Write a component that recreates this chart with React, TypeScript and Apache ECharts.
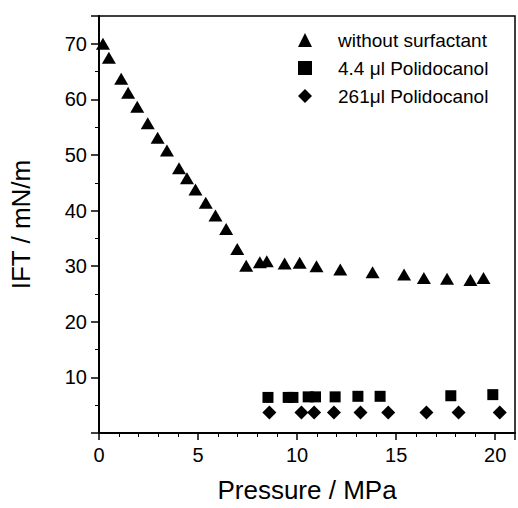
import React, { useEffect, useRef } from "react";
import * as echarts from "echarts";

const seriesNames = ["without surfactant", "4.4 μl Polidocanol", "261μl Polidocanol"];

const noSurfX = [0.2, 0.5, 1.12, 1.47, 1.93, 2.46, 2.96, 3.43, 4.04, 4.44, 4.87, 5.39, 5.88, 6.42, 6.98, 7.43, 8.12, 8.47, 9.37, 10.13, 10.98, 12.18, 13.81, 15.4, 16.4, 17.57, 18.75, 19.41];
const noSurfY = [70.0, 67.5, 63.7, 61.2, 58.7, 55.7, 53.1, 50.8, 47.6, 45.8, 43.8, 41.4, 39.1, 36.7, 33.1, 30.1, 30.7, 30.9, 30.5, 30.6, 30.0, 29.4, 28.9, 28.5, 27.9, 27.75, 27.5, 27.9];

const lowPoliX = [8.53, 9.55, 9.79, 10.56, 10.93, 11.92, 13.07, 14.19, 17.76, 19.88];
const lowPoliY = [6.4, 6.4, 6.4, 6.5, 6.5, 6.5, 6.6, 6.6, 6.7, 6.9];

const highPoliX = [8.6, 10.22, 10.86, 11.86, 13.2, 14.6, 16.53, 18.15, 20.23];
const highPoliY = [3.7, 3.7, 3.7, 3.7, 3.7, 3.7, 3.7, 3.7, 3.7];

const xTickLabels = ["0", "5", "10", "15", "20"];
const yTickLabels = ["10", "20", "30", "40", "50", "60", "70"];

const FONT = "'Liberation Sans', Arial, Helvetica, sans-serif";

function zip(xs: number[], ys: number[]) {
  return xs.map((x, i) => [x, ys[i]]);
}

export default function App() {
  const ref = useRef<HTMLDivElement>(null);
  useEffect(() => {
    if (!ref.current) return;
    const chart = echarts.init(ref.current, undefined, { renderer: "svg" });
    chart.setOption({
      animation: false,
      backgroundColor: "#fff",
      grid: {
        left: 94,
        right: 2,
        top: 16,
        bottom: 74,
        show: true,
        borderColor: "#000",
        borderWidth: 1.5,
        backgroundColor: "transparent",
      },
      legend: {
        orient: "vertical",
        left: 293,
        top: 25,
        itemWidth: 14,
        itemHeight: 14,
        itemGap: 8,
        data: [
          { name: seriesNames[0], icon: "triangle" },
          { name: seriesNames[1], icon: "rect" },
          { name: seriesNames[2], icon: "diamond" },
        ],
        textStyle: {
          fontFamily: FONT,
          fontSize: 19,
          color: "#000",
          lineHeight: 20,
          padding: [0, 0, 0, 21],
        },
      },
      xAxis: {
        type: "value",
        min: 0,
        max: 21,
        interval: 5,
        name: "Pressure / MPa",
        nameLocation: "middle",
        nameGap: 44,
        nameTextStyle: { fontFamily: FONT, fontSize: 26, color: "#000" },
        axisLine: { show: true, lineStyle: { color: "#000", width: 2 } },
        axisTick: { show: true, inside: false, length: 7, lineStyle: { color: "#000", width: 1.5 } },
        minorTick: { show: true, splitNumber: 5, length: 4, lineStyle: { color: "#000", width: 1 } },
        splitLine: { show: false },
        minorSplitLine: { show: false },
        axisLabel: {
          fontFamily: FONT,
          fontSize: 20,
          color: "#000",
          margin: 12,
          formatter: (v: number) => (xTickLabels.includes(String(v)) ? String(v) : ""),
        },
      },
      yAxis: {
        type: "value",
        min: 0,
        max: 75,
        interval: 10,
        name: "IFT / mN/m",
        nameLocation: "middle",
        nameGap: 65,
        nameTextStyle: { fontFamily: FONT, fontSize: 26, color: "#000" },
        axisLine: { show: true, lineStyle: { color: "#000", width: 2 } },
        axisTick: { show: true, inside: false, length: 8, lineStyle: { color: "#000", width: 1.5 } },
        minorTick: { show: true, splitNumber: 2, length: 4, lineStyle: { color: "#000", width: 1 } },
        splitLine: { show: false },
        minorSplitLine: { show: false },
        axisLabel: {
          fontFamily: FONT,
          fontSize: 20,
          color: "#000",
          margin: 12,
          formatter: (v: number) => (yTickLabels.includes(String(v)) ? String(v) : ""),
        },
      },
      series: [
        {
          name: seriesNames[0],
          type: "scatter",
          symbol: "triangle",
          symbolSize: [14, 12],
          itemStyle: { color: "#000", opacity: 1 },
          data: zip(noSurfX, noSurfY),
        },
        {
          name: seriesNames[1],
          type: "scatter",
          symbol: "rect",
          symbolSize: [11, 11],
          itemStyle: { color: "#000", opacity: 1 },
          data: zip(lowPoliX, lowPoliY),
        },
        {
          name: seriesNames[2],
          type: "scatter",
          symbol: "diamond",
          symbolSize: [14, 14],
          itemStyle: { color: "#000", opacity: 1 },
          data: zip(highPoliX, highPoliY),
        },
      ],
    });
    return () => chart.dispose();
  }, []);
  return (
    <div
      ref={ref}
      style={{ position: "absolute", left: 0, top: 0, width: 518, height: 508 }}
    />
  );
}
